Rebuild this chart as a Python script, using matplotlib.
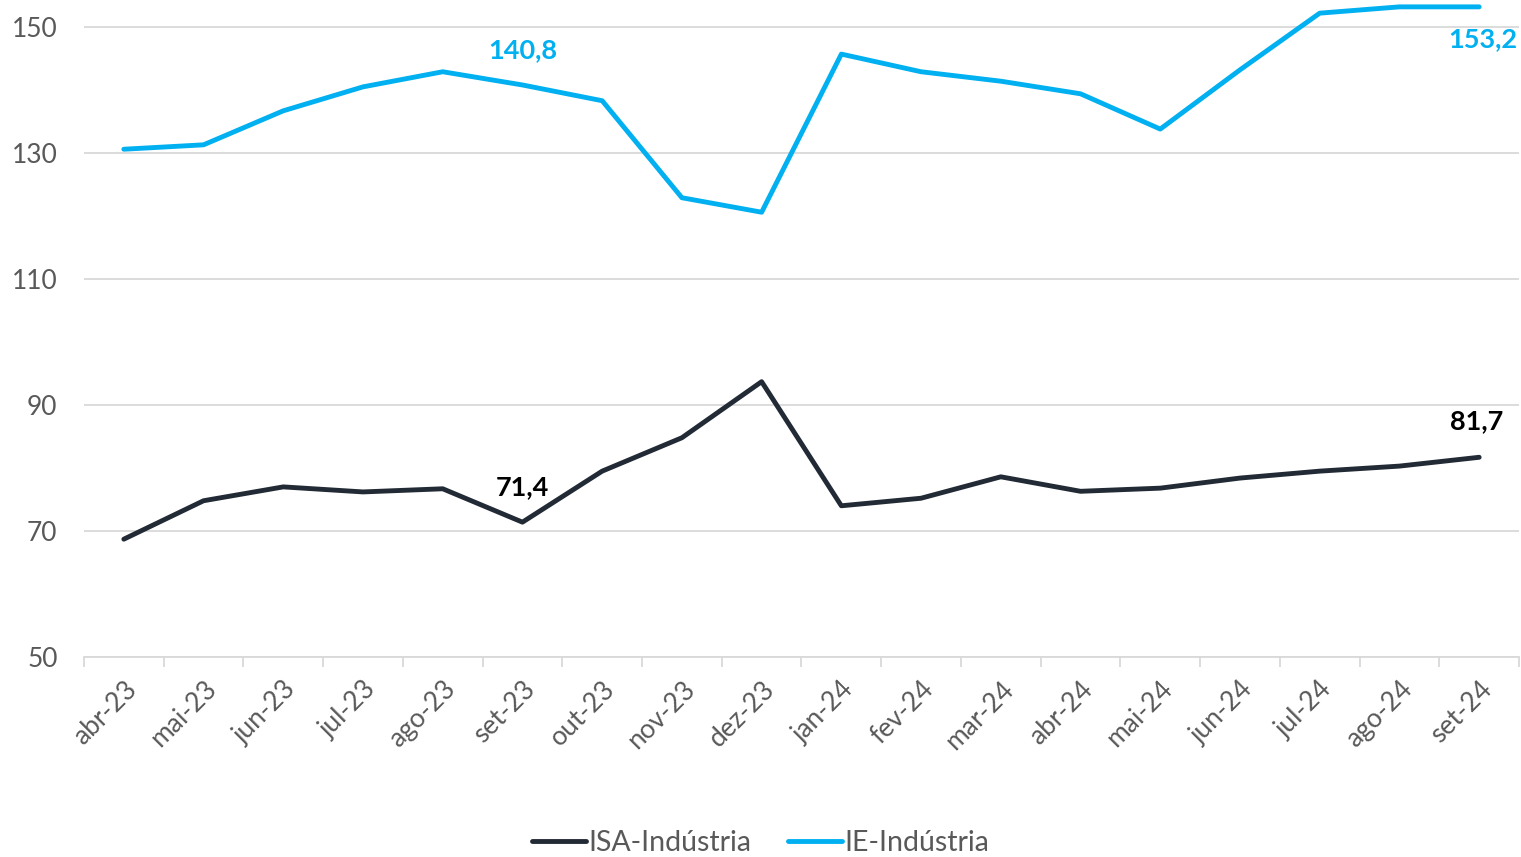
import matplotlib.pyplot as plt

plt.rcParams['font.family'] = ['Lato', 'DejaVu Sans']

months = ["abr-23", "mai-23", "jun-23", "jul-23", "ago-23", "set-23", "out-23", "nov-23", "dez-23",
          "jan-24", "fev-24", "mar-24", "abr-24", "mai-24", "jun-24", "jul-24", "ago-24", "set-24"]
isa = [68.7, 74.8, 77.0, 76.2, 76.7, 71.4, 79.5, 84.8, 93.7,
       74.0, 75.2, 78.6, 76.3, 76.8, 78.4, 79.5, 80.3, 81.7]
ie = [130.6, 131.3, 136.7, 140.5, 142.9, 140.8, 138.3, 122.9, 120.6,
      145.7, 142.9, 141.4, 139.4, 133.8, 143.2, 152.2, 153.2, 153.2]
yticks = [50, 70, 90, 110, 130, 150]

dark = "#222A35"
cyan = "#00B0F0"
grey = "#595959"

fig = plt.figure(figsize=(15.21, 8.57), dpi=100)
ax = fig.add_axes([0.0552, 0.2334, 0.9435, 0.7608])

x = list(range(len(months)))
ax.plot(x, isa, color=dark, lw=3.5, solid_capstyle="round", label="ISA-Indústria", clip_on=False)
ax.plot(x, ie, color=cyan, lw=3.5, solid_capstyle="round", label="IE-Indústria", clip_on=False)

ax.set_xlim(-0.5, len(months) - 0.5)
ax.set_ylim(50, 153.5)
ax.set_yticks(yticks)
ax.set_yticklabels([str(v) for v in yticks])
ax.grid(axis="y", color="#D9D9D9", lw=1.3)
ax.set_axisbelow(True)
for s in ["top", "right", "left"]:
    ax.spines[s].set_visible(False)
ax.spines["bottom"].set_color("#D9D9D9")
ax.spines["bottom"].set_linewidth(1.3)

ax.set_xticks(x)
ax.set_xticklabels(months, rotation=45, ha="right", rotation_mode="anchor")
ax.set_xticks([i - 0.5 for i in range(len(months) + 1)], minor=True)
ax.tick_params(axis="x", which="major", length=0, pad=14, labelsize=19, labelcolor=grey)
ax.tick_params(axis="x", which="minor", length=7, width=1.3, color="#D9D9D9")
ax.tick_params(axis="y", length=0, pad=19, labelsize=19, labelcolor=grey)

# data labels
lab = dict(ha="center", va="center", fontsize=19.5, fontweight="bold", annotation_clip=False)
ax.annotate("140,8", (5, ie[5]), xytext=(0, 25), textcoords="offset points", color=cyan, **lab)
ax.annotate("153,2", (17, ie[17]), xytext=(3, -23), textcoords="offset points", color=cyan, **lab)
ax.annotate("71,4", (5, isa[5]), xytext=(0, 25), textcoords="offset points", color="black", **lab)
ax.annotate("81,7", (17, isa[17]), xytext=(-2, 26), textcoords="offset points", color="black", **lab)

leg = fig.legend(loc="center", bbox_to_anchor=(0.5, 0.016), ncol=2, frameon=False,
                 fontsize=20.5, handlelength=1.9, handletextpad=0.08, columnspacing=1.3)
for t in leg.get_texts():
    t.set_color(grey)

fig.savefig("out.png", dpi=100)
